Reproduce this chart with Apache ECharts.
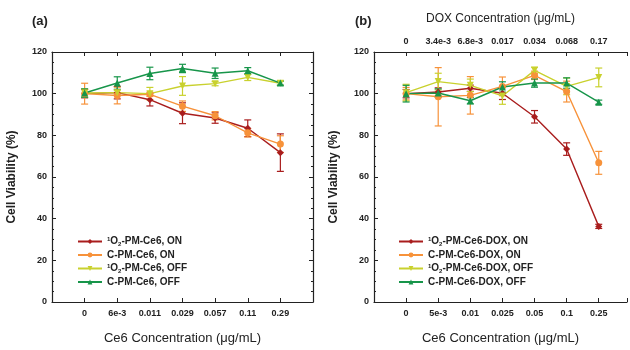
<!DOCTYPE html>
<html>
<head>
<meta charset="utf-8">
<script src="https://cdn.jsdelivr.net/npm/echarts@6/dist/echarts.min.js"></script>
<style>
  html, body { margin: 0; padding: 0; background: #fff; }
  #chart { width: 630px; height: 350px; }
</style>
</head>
<body>
<div id="chart"></div>
<script>
// panel (a): PM-Ce6
const ce6LabelsA = ["0", "6e-3", "0.011", "0.029", "0.057", "0.11", "0.29"];
const redA = [100, 100.5, 97.1, 90.6, 88.3, 83.4, 71.7];
const redErrA = [2, 3, 3, 5, 2.5, 4, 9];
const orangeA = [100, 99.1, 99.7, 94.0, 89.4, 81.2, 75.8];
const orangeErrA = [5, 4, 1, 2.5, 2, 2, 4];
const yellowA = [100.3, 100.5, 100, 103.7, 104.8, 107.8, 105];
const yellowErrA = [2, 1, 3, 4.5, 1, 1.5, 1];
const greenA = [100.3, 105.1, 109.7, 112.1, 109.8, 111, 105.1];
const greenErrA = [2, 3, 3, 2, 2.5, 1.5, 1];

// panel (b): PM-Ce6-DOX
const ce6LabelsB = ["0", "5e-3", "0.01", "0.025", "0.05", "0.1", "0.25"];
const doxLabelsB = ["0", "3.4e-3", "6.8e-3", "0.017", "0.034", "0.068", "0.17"];
const redB = [100, 100.8, 102.6, 100.2, 88.9, 73.4, 36.3];
const redErrB = [2, 2, 1.5, 3, 3, 3, 1];
const orangeB = [100, 98.5, 99.2, 103.5, 108.8, 101, 66.8];
const orangeErrB = [3, 14, 9, 4.5, 2, 5, 5.5];
const yellowB = [100.5, 105.8, 104, 98.9, 111.2, 103.5, 107.8];
const yellowErrB = [4, 4, 3, 4, 1.5, 4, 4.5];
const greenB = [100, 100.3, 96.6, 103.2, 105.1, 105.1, 95.9];
const greenErrB = [4, 2, 1.5, 2.5, 2, 2.5, 1];

const namesA = ["1O2-PM-Ce6, ON", "C-PM-Ce6, ON", "1O2-PM-Ce6, OFF", "C-PM-Ce6, OFF"];
const namesB = ["1O2-PM-Ce6-DOX, ON", "C-PM-Ce6-DOX, ON", "1O2-PM-Ce6-DOX, OFF", "C-PM-Ce6-DOX, OFF"];

const colors = ["#a91d1d", "#f7923a", "#c9d12e", "#17954a"];
const symbols = ["diamond", "circle", "triangle", "triangle"];
const rotates = [0, 0, 180, 0];

const ink = "#222";
const tickFont = { fontFamily: "Liberation Sans", fontSize: 9, fontWeight: "bold", color: ink };

// panel (b) is cut off at the right edge of the picture
function xAxes(grid, xMax, labels, top, topLabels) {
  const base = {
    gridIndex: grid, type: "value", min: -1, max: xMax, interval: 1,
    splitLine: { show: false },
    axisLine: { onZero: false, lineStyle: { color: ink, width: 1.2 } },
    axisTick: { inside: true, length: 4, lineStyle: { color: ink } }
  };
  const fmt = (arr) => (v) => (arr[v] !== undefined ? arr[v] : "");
  return [
    {
      ...base, position: "bottom",
      axisLabel: { ...tickFont, margin: 7, formatter: fmt(labels) },
      name: "Ce6 Concentration (μg/mL)", nameLocation: "middle", nameGap: 30,
      nameTextStyle: { fontFamily: "Liberation Sans", fontSize: 13, color: ink }
    },
    {
      ...base, position: "top",
      axisLabel: topLabels ? { ...tickFont, margin: 6, formatter: fmt(topLabels) } : { show: false },
      name: top || "", nameLocation: "middle", nameGap: 27,
      nameTextStyle: { fontFamily: "Liberation Sans", fontSize: 12, color: ink }
    }
  ];
}

function yAxes(grid, rightLine) {
  const base = {
    gridIndex: grid, type: "value", min: 0, max: 120, interval: 20,
    splitLine: { show: false },
    axisLine: { show: true, onZero: false, lineStyle: { color: ink, width: 1.2 } },
    axisTick: { inside: true, length: 4, lineStyle: { color: ink } },
    minorTick: { show: true, splitNumber: 4, length: 2, lineStyle: { color: ink } }
  };
  const right = rightLine
    ? { ...base, position: "right", axisLabel: { show: false } }
    : { ...base, position: "right", axisLine: { show: false }, axisTick: { show: false }, minorTick: { show: false }, axisLabel: { show: false } };
  return [
    {
      ...base, position: "left",
      axisLabel: { ...tickFont, margin: 5 },
      name: "Cell Viability (%)", nameLocation: "middle", nameGap: 34,
      nameTextStyle: { fontFamily: "Liberation Sans", fontSize: 12, fontWeight: "bold", color: ink }
    },
    right
  ];
}

function lineSeries(name, values, i, xi, yi) {
  return {
    type: "line", name, xAxisIndex: xi, yAxisIndex: yi,
    data: values.map((v, k) => [k, v]),
    symbol: symbols[i], symbolRotate: rotates[i],
    symbolSize: 7,
    itemStyle: { color: colors[i] },
    lineStyle: { color: colors[i], width: 1.4 },
    z: 3
  };
}

function errSeries(values, errs, i, xi, yi) {
  return {
    type: "custom", name: "err" + xi + "-" + i, xAxisIndex: xi, yAxisIndex: yi,
    data: values.map((v, k) => [k, v, errs[k]]),
    renderItem: (params, api) => {
      const x = api.value(0), v = api.value(1), e = api.value(2);
      const top = api.coord([x, v + e]);
      const bot = api.coord([x, v - e]);
      const w = 3.5;
      const style = { stroke: colors[i], lineWidth: 1.2 };
      return {
        type: "group",
        children: [
          { type: "line", shape: { x1: top[0], y1: top[1], x2: bot[0], y2: bot[1] }, style },
          { type: "line", shape: { x1: top[0] - w, y1: top[1], x2: top[0] + w, y2: top[1] }, style },
          { type: "line", shape: { x1: bot[0] - w, y1: bot[1], x2: bot[0] + w, y2: bot[1] }, style }
        ]
      };
    },
    z: 2, silent: true
  };
}

const seriesA = [redA, orangeA, yellowA, greenA];
const errsA = [redErrA, orangeErrA, yellowErrA, greenErrA];
const seriesB = [redB, orangeB, yellowB, greenB];
const errsB = [redErrB, orangeErrB, yellowErrB, greenErrB];

const series = [];
seriesA.forEach((s, i) => series.push(errSeries(s, errsA[i], i, 0, 0)));
seriesB.forEach((s, i) => series.push(errSeries(s, errsB[i], i, 2, 2)));
seriesA.forEach((s, i) => series.push(lineSeries(namesA[i], s, i, 0, 0)));
seriesB.forEach((s, i) => series.push(lineSeries(namesB[i], s, i, 2, 2)));

const legendText = {
  fontFamily: "Liberation Sans", fontSize: 10, fontWeight: "bold", color: ink,
  rich: {
    t: { fontFamily: "Liberation Sans", fontSize: 10, fontWeight: "bold", color: ink },
    sup: { fontFamily: "Liberation Sans", fontSize: 6, fontWeight: "bold", color: ink, lineHeight: 12, padding: [0, 0, 5, 0] },
    sub: { fontFamily: "Liberation Sans", fontSize: 6, fontWeight: "bold", color: ink, padding: [5, 0, 0, 0], lineHeight: 12 }
  }
};
const legendFmt = (name) =>
  name.startsWith("1O2") ? "{sup|1}{t|O}{sub|2}{t|" + name.slice(3) + "}" : "{t|" + name + "}";

function legend(names, left) {
  return {
    data: names, orient: "vertical", left, top: 231,
    itemWidth: 24, itemHeight: 6, itemGap: 3,
    textStyle: legendText, formatter: legendFmt,
    selectedMode: false
  };
}

const chart = echarts.init(document.getElementById("chart"), null, { renderer: "canvas" });
chart.setOption({
  backgroundColor: "#fff",
  animation: false,
  title: [
    { text: "(a)", left: 27, top: 10, textStyle: { fontFamily: "Liberation Sans", fontSize: 13, fontWeight: "bold", color: ink } },
    { text: "(b)", left: 350, top: 10, textStyle: { fontFamily: "Liberation Sans", fontSize: 13, fontWeight: "bold", color: ink } }
  ],
  grid: [
    { left: 52, top: 52, width: 261, height: 260, containLabel: false },
    { left: 374, top: 52, width: 256, height: 260, containLabel: false }
  ],
  xAxis: [
    ...xAxes(0, 7, ce6LabelsA, "", null),
    ...xAxes(1, 6.88, ce6LabelsB, "DOX Concentration (μg/mL)", doxLabelsB)
  ],
  yAxis: [...yAxes(0, true), ...yAxes(1, false)],
  legend: [legend(namesA, 72), legend(namesB, 393)],
  series
});
</script>
</body>
</html>
